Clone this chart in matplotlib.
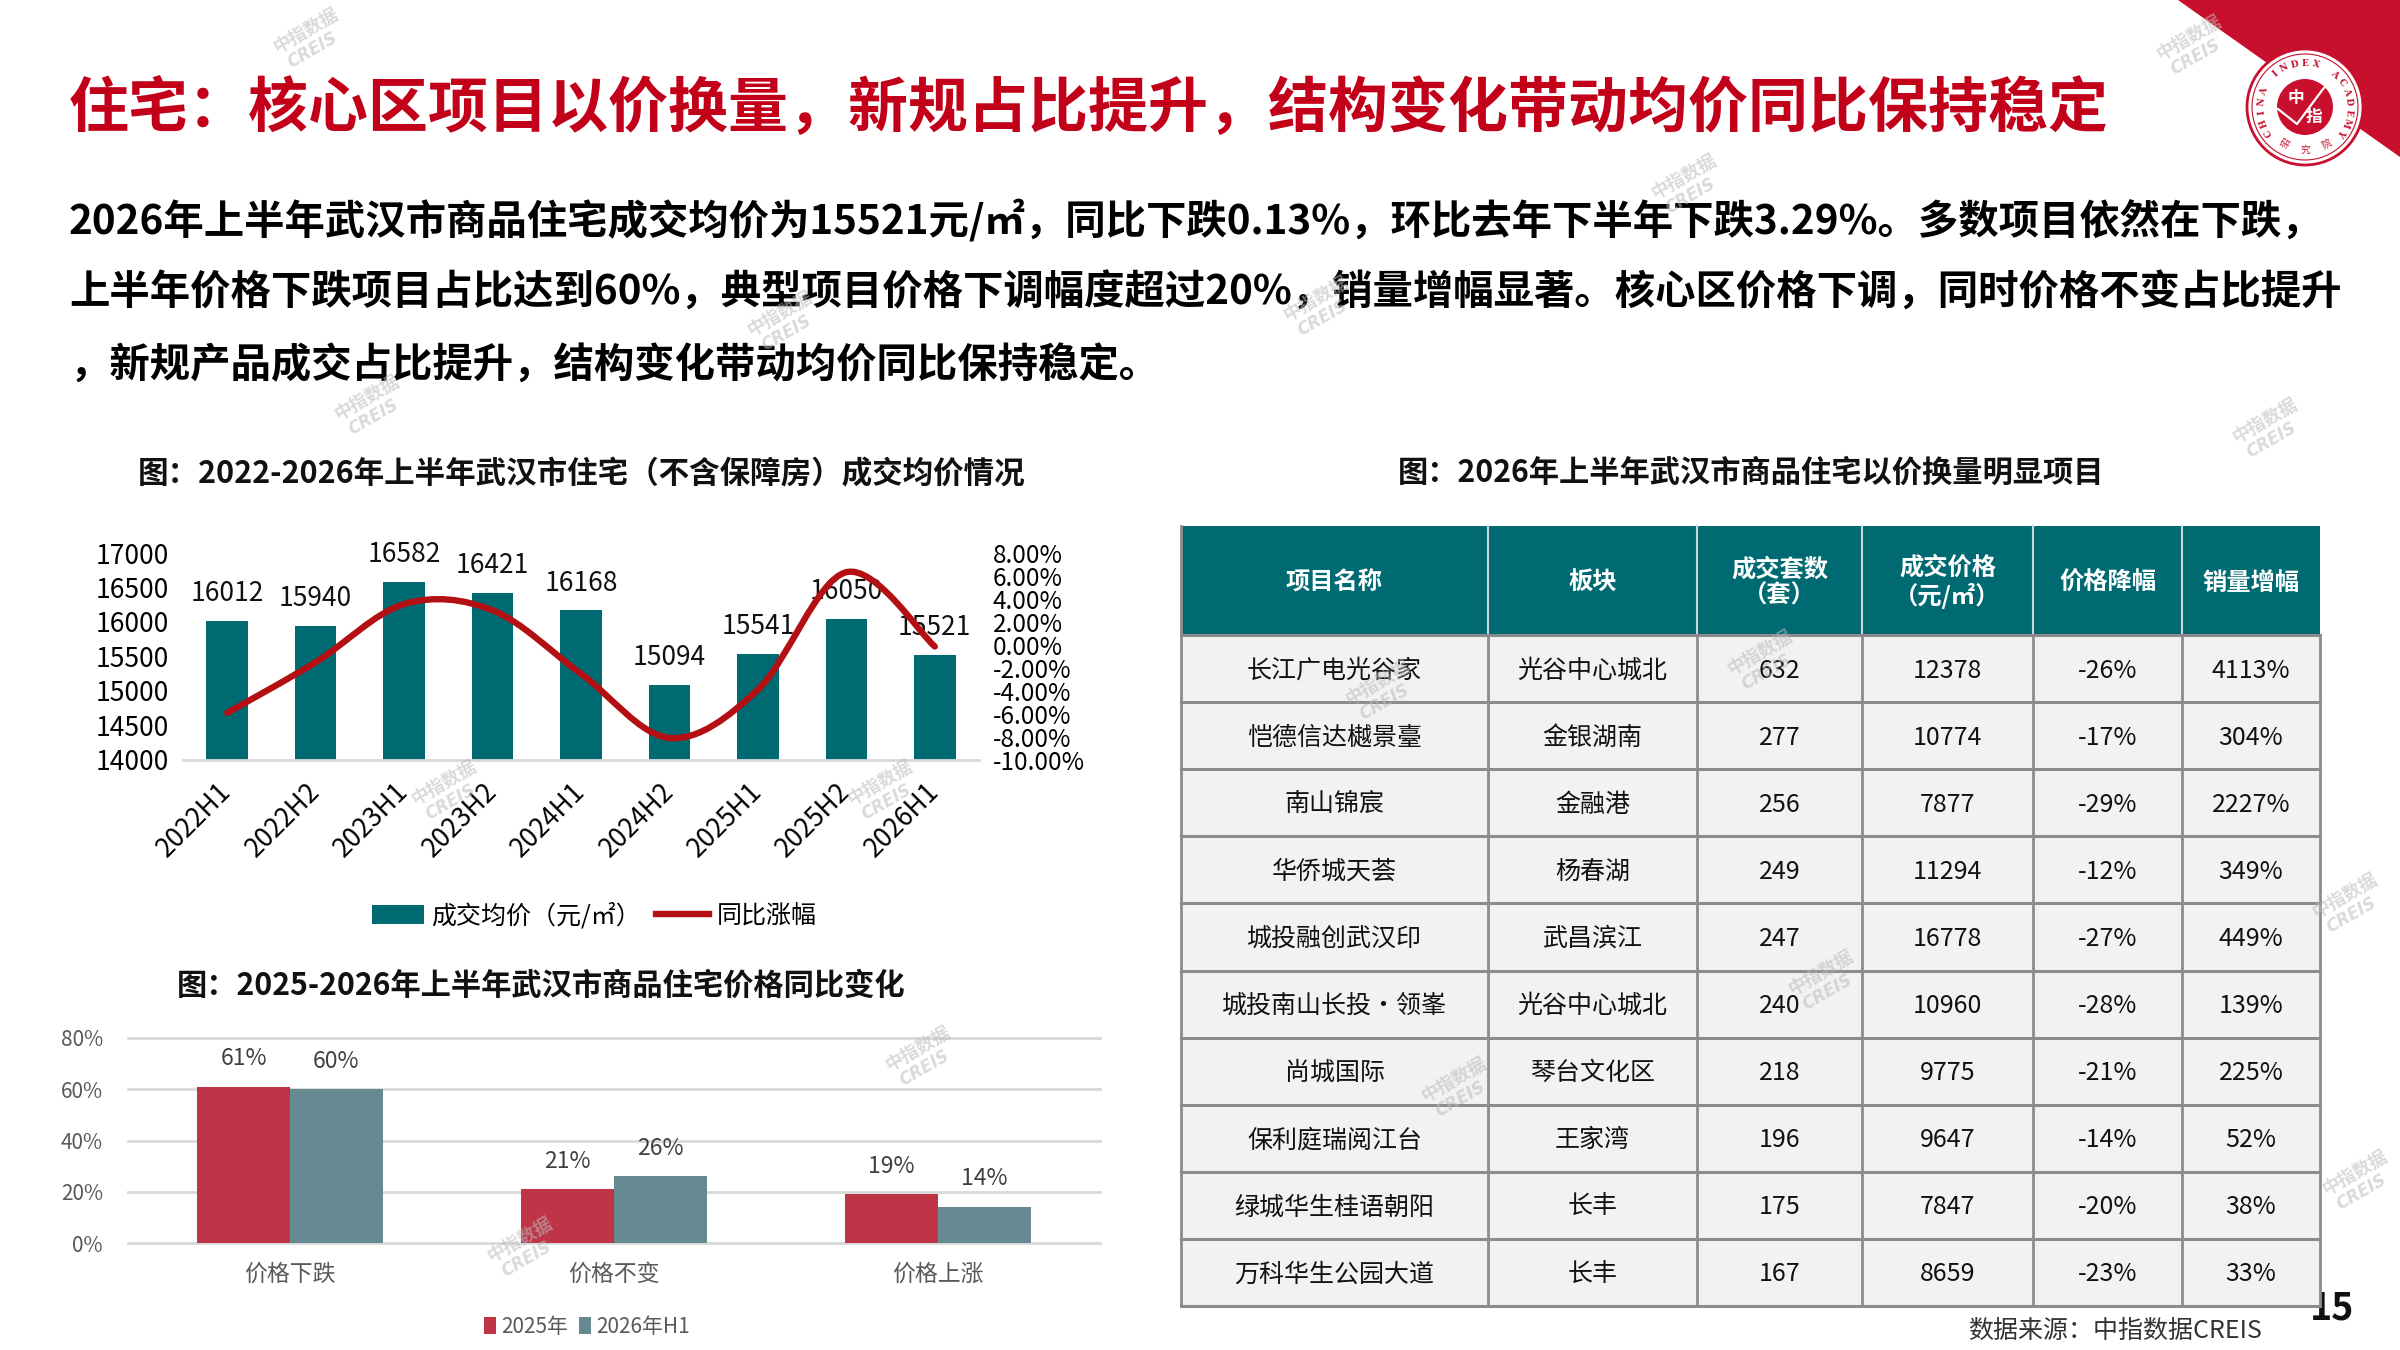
import numpy as np
import matplotlib
matplotlib.use("Agg")
import matplotlib.pyplot as plt
from matplotlib.path import Path
from matplotlib.patches import PathPatch, Rectangle, Polygon, Circle, Patch
from matplotlib.lines import Line2D

plt.rcParams['font.family'] = ['Noto Sans CJK SC', 'DejaVu Sans']

# ---------------- data ----------------
title_text = "住宅：核心区项目以价换量，新规占比提升，结构变化带动均价同比保持稳定"
body_lines = [
    "2026年上半年武汉市商品住宅成交均价为15521元/㎡，同比下跌0.13%，环比去年下半年下跌3.29%。多数项目依然在下跌，",
    "上半年价格下跌项目占比达到60%，典型项目价格下调幅度超过20%，销量增幅显著。核心区价格下调，同时价格不变占比提升",
    "，新规产品成交占比提升，结构变化带动均价同比保持稳定。",
]

c1_title = "图：2022-2026年上半年武汉市住宅（不含保障房）成交均价情况"
periods = ["2022H1", "2022H2", "2023H1", "2023H2", "2024H1", "2024H2", "2025H1", "2025H2", "2026H1"]
avg_price = [16012, 15940, 16582, 16421, 16168, 15094, 15541, 16050, 15521]
yoy_pct = [-5.9, -1.5, 3.56, 3.02, -2.50, -8.08, -3.88, 6.33, -0.13]
c1_legend = ["成交均价（元/㎡）", "同比涨幅"]

c2_title = "图：2025-2026年上半年武汉市商品住宅价格同比变化"
c2_cats = ["价格下跌", "价格不变", "价格上涨"]
c2_series = ["2025年", "2026年H1"]
share_2025 = [0.61, 0.21, 0.19]
share_2026h1 = [0.60, 0.26, 0.14]

tbl_title = "图：2026年上半年武汉市商品住宅以价换量明显项目"
tbl_header = ["项目名称", "板块", "成交套数\n（套）", "成交价格\n（元/㎡）", "价格降幅", "销量增幅"]
proj_names = ["长江广电光谷家", "恺德信达樾景臺", "南山锦宸", "华侨城天荟", "城投融创武汉印",
              "城投南山长投·领峯", "尚城国际", "保利庭瑞阅江台", "绿城华生桂语朝阳", "万科华生公园大道"]
proj_area = ["光谷中心城北", "金银湖南", "金融港", "杨春湖", "武昌滨江",
             "光谷中心城北", "琴台文化区", "王家湾", "长丰", "长丰"]
proj_units = [632, 277, 256, 249, 247, 240, 218, 196, 175, 167]
proj_price = [12378, 10774, 7877, 11294, 16778, 10960, 9775, 9647, 7847, 8659]
proj_drop = ["-26%", "-17%", "-29%", "-12%", "-27%", "-28%", "-21%", "-14%", "-20%", "-23%"]
proj_vol = ["4113%", "304%", "2227%", "349%", "449%", "139%", "225%", "52%", "38%", "33%"]

source_text = "数据来源：中指数据CREIS"
page_no = "15"

# ---------------- styles ----------------
RED = "#C2001A"
TEAL = "#006A72"
LINE_RED = "#B40F12"
C2_RED = "#BF3446"
C2_TEAL = "#678A92"
GRID = "#D9D9D9"

W, H = 2400, 1350
fig = plt.figure(figsize=(24, 13.5), dpi=100)

# background / overlay axes in pixel coords
bg = fig.add_axes([0, 0, 1, 1], zorder=0)
bg.set_xlim(0, W)
bg.set_ylim(H, 0)
bg.axis("off")

# corner + logo
bg.add_patch(Polygon([(2178, 0), (2400, 0), (2400, 157)], closed=True, color="#C8102E", lw=0))
cx, cy = 2305, 107
bg.add_patch(Circle((cx, cy), 58, facecolor="white", edgecolor="#C8102E", lw=2.0))
bg.add_patch(Circle((cx, cy), 53, facecolor="none", edgecolor="#C8102E", lw=0.8))
bg.add_patch(Circle((cx, cy), 28, facecolor="#C8102E", edgecolor="none"))
bg.plot([cx - 27, cx - 8, cx + 18, cx + 30], [cy + 2, cy + 17, cy - 18, cy - 30], color="white", lw=1.6)
bg.text(cx - 9, cy - 9, "中", color="white", fontsize=12, fontweight="bold", ha="center", va="center")
bg.text(cx + 9, cy + 10, "指", color="white", fontsize=12, fontweight="bold", ha="center", va="center")
logo_txt = "CHINA INDEX ACADEMY"
angs = np.linspace(215, -35, len(logo_txt))
for ch, a in zip(logo_txt, angs):
    r = 44
    bg.text(cx + r * np.cos(np.radians(a)), cy - r * np.sin(np.radians(a)), ch,
            color="#C8102E", fontsize=6.5, fontweight="bold", family="DejaVu Serif",
            ha="center", va="center", rotation=a - 90)
for ch, a in zip("研究院", [240, 270, 300]):
    r = 43
    bg.text(cx + r * np.cos(np.radians(a)), cy - r * np.sin(np.radians(a)), ch,
            color="#C8102E", fontsize=7, ha="center", va="center", rotation=a + 90)

# title and body
bg.text(69, 109, title_text, color=RED, fontsize=43.2, fontweight="bold", ha="left", va="center")
for i, ln in enumerate(body_lines):
    bg.text(69, 221 + i * 72.5, ln, color="black", fontsize=29.1, fontweight="bold", ha="left", va="center")

bg.text(582, 474, c1_title, fontsize=22, fontweight="bold", ha="center", va="center", color="#111111")
bg.text(541, 986, c2_title, fontsize=21.8, fontweight="bold", ha="center", va="center", color="#111111")
bg.text(1751, 473, tbl_title, fontsize=21.8, fontweight="bold", ha="center", va="center", color="#111111")

# ---------------- table ----------------
col_x = [1181, 1488, 1697, 1862, 2033, 2182, 2320]
h_top, h_bot, t_bot = 526, 635, 1306
n_rows = len(proj_names)
row_h = (t_bot - h_bot) / n_rows

bg.add_patch(Rectangle((col_x[0], h_top), col_x[-1] - col_x[0], h_bot - h_top, facecolor=TEAL, edgecolor="none", zorder=2))
bg.add_patch(Rectangle((col_x[0], h_bot), col_x[-1] - col_x[0], t_bot - h_bot, facecolor="#F2F2F2", edgecolor="none", zorder=2))
for j, hd in enumerate(tbl_header):
    xm = (col_x[j] + col_x[j + 1]) / 2
    bg.text(xm, (h_top + h_bot) / 2 + 2, hd, color="white", fontsize=17.5, fontweight="bold",
            ha="center", va="center", linespacing=1.15, zorder=4)
for j in range(1, len(col_x) - 1):
    bg.plot([col_x[j], col_x[j]], [h_top, h_bot], color="#C9D9DB", lw=1.5, zorder=3)
rows = list(zip(proj_names, proj_area, proj_units, proj_price, proj_drop, proj_vol))
for i, row in enumerate(rows):
    yc = h_bot + (i + 0.5) * row_h
    for j, val in enumerate(row):
        xm = (col_x[j] + col_x[j + 1]) / 2
        bg.text(xm, yc + 2, str(val), color="#111111", fontsize=18, ha="center", va="center", zorder=4)
for i in range(n_rows + 1):
    y = h_bot + i * row_h
    bg.plot([col_x[0], col_x[-1]], [y, y], color="#8C8C8C", lw=2.2, zorder=3)
for j in range(len(col_x)):
    bg.plot([col_x[j], col_x[j]], [h_bot, t_bot], color="#8C8C8C", lw=2.0, zorder=3)
bg.plot([col_x[0], col_x[0]], [h_top, h_bot], color="#8C8C8C", lw=2.0, zorder=3)

bg.text(2354, 1308, page_no, fontsize=27, fontweight="bold", style="italic", ha="right", va="center", color="#111111", zorder=1)
bg.text(2262, 1331, source_text, fontsize=18, ha="right", va="center", color="#333333")

# ---------------- chart 1 ----------------
ax1 = fig.add_axes([183 / W, 1 - 760 / H, 796 / W, 207 / H], zorder=2)
x = np.arange(len(periods))
bars = ax1.bar(x, avg_price, width=0.47, color=TEAL, zorder=2)
ax1.set_ylim(14000, 17000)
ax1.set_xlim(-0.5, len(periods) - 0.5)
ax1.set_yticks(np.arange(14000, 17001, 500))
ax1.set_xticks(x)
ax1.set_xticklabels(periods, rotation=45, ha="right", va="center", rotation_mode="anchor", fontsize=19)
ax1.tick_params(axis="x", length=0, pad=20)
ax1.tick_params(axis="y", length=0, pad=10, labelsize=19)
for s in ["left", "right", "top"]:
    ax1.spines[s].set_visible(False)
ax1.spines["bottom"].set_color(GRID)
ax1.spines["bottom"].set_linewidth(2)
ax1.patch.set_alpha(0)
for xi, v in zip(x, avg_price):
    ax1.annotate(f"{v}", (xi, v), xytext=(0, 10), textcoords="offset points",
                 ha="center", va="bottom", fontsize=19, color="#111111", zorder=5)

ax1r = ax1.twinx()
ax1r.set_ylim(-10, 8)
ax1r.set_yticks(np.arange(-10, 8.1, 2))
ax1r.set_yticklabels([f"{v:.2f}%" for v in np.arange(-10, 8.1, 2)])
ax1r.tick_params(axis="y", length=0, pad=10, labelsize=17.5)
for s in ["left", "right", "top", "bottom"]:
    ax1r.spines[s].set_visible(False)

# smoothed line (Catmull-Rom -> cubic Bezier)
pts = np.column_stack([x, yoy_pct]).astype(float)
verts = [tuple(pts[0])]
codes = [Path.MOVETO]
n = len(pts)
for i in range(n - 1):
    p0 = pts[i - 1] if i > 0 else pts[i]
    p1, p2 = pts[i], pts[i + 1]
    p3 = pts[i + 2] if i + 2 < n else pts[i + 1]
    c1 = p1 + (p2 - p0) / 6
    c2 = p2 - (p3 - p1) / 6
    verts += [tuple(c1), tuple(c2), tuple(p2)]
    codes += [Path.CURVE4] * 3
ax1r.add_patch(PathPatch(Path(verts, codes), facecolor="none", edgecolor=LINE_RED, lw=4.6,
                         capstyle="round", zorder=3))

leg1 = [Patch(facecolor=TEAL, edgecolor="none"), Line2D([0], [0], color=LINE_RED, lw=4.6)]
fig.legend(leg1, c1_legend, loc="center", bbox_to_anchor=(594 / W, 1 - 916 / H), ncol=2,
           frameon=False, fontsize=18, handlelength=2.1, handleheight=0.8, handletextpad=0.3,
           columnspacing=0.6)

# ---------------- chart 2 ----------------
ax2 = fig.add_axes([128 / W, 1 - 1243 / H, 972 / W, 205 / H], zorder=2)
x2 = np.arange(len(c2_cats))
bw = 0.287
b1 = ax2.bar(x2 - bw / 2, share_2025, width=bw, color=C2_RED, zorder=2, label=c2_series[0])
b2 = ax2.bar(x2 + bw / 2, share_2026h1, width=bw, color=C2_TEAL, zorder=2, label=c2_series[1])
ax2.set_ylim(0, 0.8)
ax2.set_xlim(-0.5, len(c2_cats) - 0.5)
ax2.set_yticks(np.arange(0, 0.81, 0.2))
ax2.set_yticklabels([f"{int(round(v * 100))}%" for v in np.arange(0, 0.81, 0.2)])
for v in np.arange(0, 0.81, 0.2):
    ax2.axhline(v, color=GRID, lw=2, zorder=1, clip_on=False)
ax2.set_xticks(x2)
ax2.set_xticklabels(c2_cats, fontsize=16.5, color="#595959")
ax2.tick_params(axis="x", length=0, pad=14)
ax2.tick_params(axis="y", length=0, pad=18, labelsize=15, labelcolor="#595959")
for s in ax2.spines.values():
    s.set_visible(False)
ax2.patch.set_alpha(0)
for xs, vals in [(x2 - bw / 2, share_2025), (x2 + bw / 2, share_2026h1)]:
    for xi, v in zip(xs, vals):
        ax2.annotate(f"{int(round(v * 100))}%", (xi, v), xytext=(0, 12), textcoords="offset points",
                     ha="center", va="bottom", fontsize=16.5, color="#404040")
fig.legend([Patch(facecolor=C2_RED), Patch(facecolor=C2_TEAL)], c2_series, loc="center",
           bbox_to_anchor=(587 / W, 1 - 1327 / H), ncol=2, frameon=False, fontsize=15,
           handlelength=0.6, handleheight=0.9, handletextpad=0.25, columnspacing=0.5,
           labelcolor="#595959")

# ---------------- watermarks ----------------
wm = fig.add_axes([0, 0, 1, 1], zorder=10)
wm.set_xlim(0, W)
wm.set_ylim(H, 0)
wm.axis("off")
wm_pos = [(306, 38), (1684, 184), (780, 321), (1316, 306), (367, 405), (2265, 428), (444, 790),
          (880, 790), (1760, 660), (1378, 690), (2345, 903), (1821, 980), (918, 1056),
          (1454, 1087), (520, 1247), (2355, 1180), (2189, 45)]
for (px, py) in wm_pos:
    wm.text(px, py - 8, "中指数据", fontsize=13, color="#BBBBBB", alpha=0.55, rotation=30,
            ha="center", va="center", fontweight="bold")
    wm.text(px + 6, py + 12, "CREIS", fontsize=12, color="#BBBBBB", alpha=0.55, rotation=30,
            ha="center", va="center", style="italic", fontweight="bold", family="DejaVu Sans")

fig.savefig("out.png", dpi=100, facecolor="white")
